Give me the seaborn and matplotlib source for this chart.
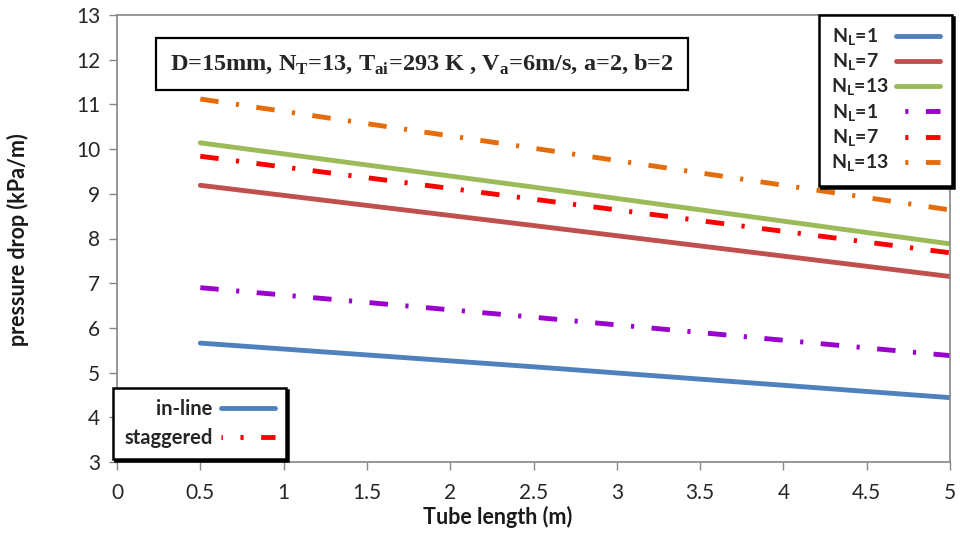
import numpy as np
import pandas as pd
import matplotlib
matplotlib.use("Agg")
import matplotlib.pyplot as plt
from matplotlib.lines import Line2D
import seaborn as sns

# Tube length (m)
tube_length = [0.5, 2.5, 5.0]

# Pressure drop (kPa/m), in-line arrangement
inline_nl1 = [5.66, 5.13, 4.44]
inline_nl7 = [9.19, 8.29, 7.15]
inline_nl13 = [10.14, 9.15, 7.88]

# Pressure drop (kPa/m), staggered arrangement
stag_nl1 = [6.90, 6.24, 5.38]
stag_nl7 = [9.84, 8.88, 7.68]
stag_nl13 = [11.12, 10.02, 8.64]

series_labels = ["N$_\\mathregular{L}$=1   ", "N$_\\mathregular{L}$=7   ", "N$_\\mathregular{L}$=13",
                 "N$_\\mathregular{L}$=1   ", "N$_\\mathregular{L}$=7   ", "N$_\\mathregular{L}$=13"]
arrangement_labels = ["in-line", "staggered"]
x_ticks = [0, 0.5, 1, 1.5, 2, 2.5, 3, 3.5, 4, 4.5, 5]
x_tick_labels = ["0", "0.5", "1", "1.5", "2", "2.5", "3", "3.5", "4", "4.5", "5"]
y_ticks = list(range(3, 14))

sns.set_theme(style="white")
plt.rcParams["font.family"] = ["Lato", "DejaVu Sans"]
plt.rcParams["mathtext.fontset"] = "custom"

colors = ["#4F81BD", "#C0504D", "#9BBB59", "#9A00CC", "#FF0000", "#E46C0A"]
dash_pattern = (3.8, 3.6, 0.65, 3.6)
dashdot = (0, dash_pattern)
styles = ["-", "-", "-", dashdot, dashdot, dashdot]
data = [inline_nl1, inline_nl7, inline_nl13, stag_nl1, stag_nl7, stag_nl13]
LW = 3.5

fig = plt.figure(figsize=(9.6, 5.38), dpi=100)
ax = fig.add_axes([117 / 960, 1 - 462 / 538, (950 - 117) / 960, (462 - 15) / 538])

for vals, col, ls, lab in zip(data, colors, styles, series_labels):
    sns.lineplot(x=tube_length, y=vals, color=col, linewidth=LW,
                 linestyle=ls, label=lab, ax=ax, legend=False)

ax.set_xlim(0, 5)
ax.set_ylim(3, 13)
ax.set_xticks(x_ticks)
ax.set_xticklabels(x_tick_labels)
ax.set_yticks(y_ticks)
ax.tick_params(axis="both", which="major", labelsize=15, length=6, width=1,
               color="#868686", direction="out", bottom=True, left=True,
               labelcolor="#262626")
ax.tick_params(axis="x", pad=9)
ax.tick_params(axis="y", pad=6)
for sp in ax.spines.values():
    sp.set_color("#868686")
    sp.set_linewidth(1.2)

ax.set_xlabel("Tube length (m)", fontsize=15.5, fontweight="bold", color="#1a1a1a")
ax.set_ylabel("pressure drop (kPa/m)", fontsize=15.5, fontweight="bold", color="#1a1a1a")
ax.xaxis.set_label_coords(0.457, -0.098)
ax.yaxis.set_label_coords(-0.106, 0.497)

legend_frame = dict(frameon=True, fancybox=False, borderaxespad=0, markerfirst=False,
                    bbox_transform=fig.transFigure,
                    shadow={"color": "black", "alpha": 1, "ox": 1.5, "oy": -1.5})

# Series legend (top right)
handles = ax.get_lines()
leg1 = ax.legend(handles, series_labels, loc="upper right",
                 bbox_to_anchor=(952 / 960, 1 - 15 / 538),
                 prop={"weight": "bold", "size": 14}, handlelength=2.3,
                 handletextpad=0.35, labelspacing=0.2, borderpad=0.6,
                 **legend_frame)
leg1.get_frame().set_edgecolor("black")
leg1.get_frame().set_linewidth(1.8)
for ln in leg1.get_lines()[3:]:
    ln.set_linestyle((5.6, dash_pattern))
ax.add_artist(leg1)

# Arrangement legend (bottom left)
arr_handles = [Line2D([], [], color=colors[0], linewidth=LW, linestyle="-"),
               Line2D([], [], color=colors[4], linewidth=LW, linestyle=(3.5, dash_pattern))]
leg2 = ax.legend(arr_handles, arrangement_labels, loc="lower left",
                 bbox_to_anchor=(113 / 960, 1 - 459 / 538),
                 prop={"weight": "bold", "size": 14.5}, handlelength=2.7,
                 handletextpad=0.4, labelspacing=0.42, borderpad=0.55,
                 **legend_frame)
leg2.get_frame().set_edgecolor("black")
leg2.get_frame().set_linewidth(1.8)

# Operating conditions
fig.text(422 / 960, 1 - 64 / 538,
         "D=15mm, N$_\\mathregular{T}$=13, T$_\\mathregular{ai}$=293 K , "
         "V$_\\mathregular{a}$=6m/s, a=2, b=2",
         ha="center", va="center", fontsize=17.5, fontweight="bold",
         family=["Liberation Serif", "DejaVu Serif"],
         bbox=dict(boxstyle="square,pad=0.6", facecolor="white",
                   edgecolor="black", linewidth=1.6))

fig.savefig("out.png", dpi=100, facecolor="white")
